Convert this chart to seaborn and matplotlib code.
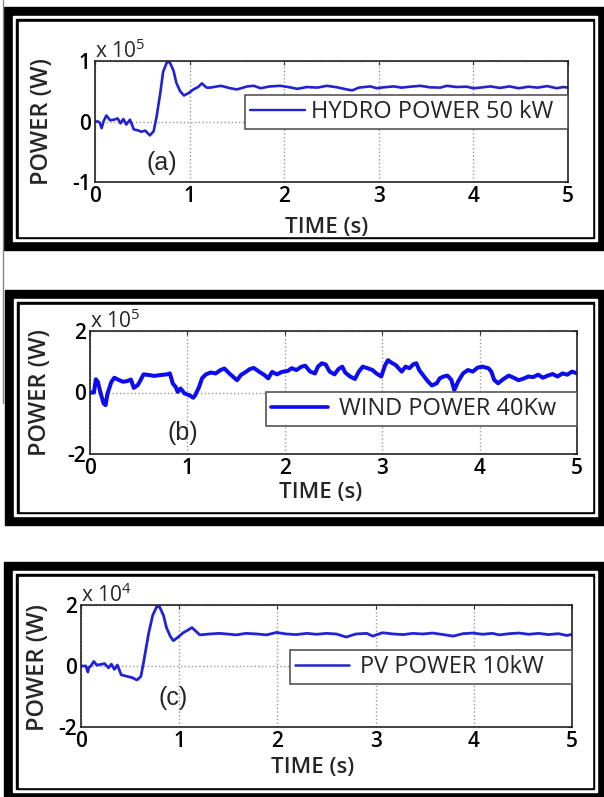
import matplotlib
matplotlib.use('Agg')
import matplotlib.pyplot as plt
from matplotlib.patches import Rectangle
from matplotlib.lines import Line2D
import seaborn as sns

# (time s, power) pairs
hydro = [(0.00, 0.00), (0.03, 0.00), (0.05, -0.02), (0.07, -0.11), (0.09, 0.00), (0.12, 0.10),
         (0.16, 0.02), (0.20, 0.03), (0.24, 0.05), (0.27, -0.03), (0.30, 0.04), (0.33, -0.05),
         (0.37, 0.03), (0.41, -0.13), (0.46, -0.15), (0.49, -0.17), (0.53, -0.15), (0.58, -0.23),
         (0.62, -0.16), (0.65, 0.07), (0.69, 0.47), (0.72, 0.82), (0.76, 0.98), (0.79, 0.98),
         (0.83, 0.84), (0.86, 0.64), (0.90, 0.50), (0.94, 0.43), (0.99, 0.47), (1.04, 0.53),
         (1.09, 0.57), (1.13, 0.63), (1.18, 0.56), (1.22, 0.56), (1.33, 0.59), (1.43, 0.55),
         (1.50, 0.53), (1.61, 0.58), (1.68, 0.59), (1.75, 0.55), (1.85, 0.58), (1.96, 0.59),
         (2.06, 0.565), (2.14, 0.54), (2.24, 0.57), (2.35, 0.56), (2.45, 0.59), (2.56, 0.565),
         (2.66, 0.53), (2.72, 0.515), (2.79, 0.56), (2.91, 0.58), (2.98, 0.55), (3.05, 0.565),
         (3.16, 0.58), (3.24, 0.56), (3.33, 0.575), (3.44, 0.59), (3.54, 0.565), (3.65, 0.56),
         (3.72, 0.59), (3.82, 0.57), (3.93, 0.575), (4.00, 0.55), (4.07, 0.56), (4.18, 0.58),
         (4.28, 0.555), (4.38, 0.58), (4.48, 0.55), (4.58, 0.575), (4.68, 0.56), (4.78, 0.585),
         (4.88, 0.55), (4.95, 0.57), (5.00, 0.56)]

wind = [(0.00, 0.00), (0.04, 0.00), (0.06, 0.43), (0.08, 0.35), (0.11, -0.03), (0.14, -0.36),
        (0.16, -0.41), (0.18, -0.03), (0.22, 0.35), (0.25, 0.48), (0.30, 0.40), (0.34, 0.35),
        (0.38, 0.37), (0.42, 0.42), (0.45, 0.15), (0.49, 0.24), (0.51, 0.35), (0.55, 0.59),
        (0.60, 0.57), (0.66, 0.54), (0.73, 0.57), (0.79, 0.59), (0.82, 0.62), (0.85, 0.29),
        (0.88, 0.18), (0.90, 0.02), (0.93, 0.13), (0.97, -0.03), (1.02, -0.09), (1.06, -0.17),
        (1.08, -0.09), (1.12, 0.18), (1.15, 0.46), (1.19, 0.59), (1.24, 0.65), (1.29, 0.62),
        (1.34, 0.73), (1.38, 0.78), (1.43, 0.62), (1.47, 0.51), (1.51, 0.40), (1.55, 0.57),
        (1.60, 0.67), (1.64, 0.76), (1.68, 0.80), (1.74, 0.67), (1.79, 0.57), (1.83, 0.46),
        (1.87, 0.67), (1.92, 0.59), (1.97, 0.67), (2.03, 0.70), (2.07, 0.79), (2.12, 0.73),
        (2.17, 0.84), (2.21, 0.87), (2.26, 0.68), (2.31, 0.62), (2.34, 0.84), (2.38, 0.95),
        (2.42, 0.91), (2.46, 0.68), (2.51, 0.59), (2.55, 0.76), (2.59, 0.84), (2.62, 0.65),
        (2.67, 0.52), (2.72, 0.44), (2.76, 0.68), (2.80, 0.84), (2.85, 0.79), (2.90, 0.73),
        (2.94, 0.62), (2.99, 0.52), (3.03, 0.89), (3.06, 1.05), (3.09, 0.98), (3.14, 0.89),
        (3.20, 0.68), (3.24, 0.84), (3.28, 0.79), (3.32, 0.92), (3.35, 0.95), (3.38, 0.73),
        (3.43, 0.52), (3.47, 0.36), (3.51, 0.23), (3.56, 0.30), (3.59, 0.46), (3.63, 0.52),
        (3.67, 0.55), (3.71, 0.41), (3.74, 0.08), (3.78, 0.36), (3.83, 0.62), (3.88, 0.73),
        (3.93, 0.68), (3.98, 0.81), (4.03, 0.84), (4.09, 0.79), (4.12, 0.68), (4.15, 0.41),
        (4.19, 0.30), (4.25, 0.45), (4.30, 0.55), (4.35, 0.48), (4.40, 0.40), (4.45, 0.45),
        (4.50, 0.52), (4.55, 0.50), (4.60, 0.58), (4.65, 0.48), (4.70, 0.55), (4.75, 0.60),
        (4.80, 0.52), (4.85, 0.62), (4.90, 0.58), (4.95, 0.68), (5.00, 0.62)]

pv = [(0.00, 0.00), (0.05, 0.00), (0.07, -0.20), (0.08, -0.05), (0.10, 0.00), (0.13, 0.15),
      (0.16, 0.03), (0.20, 0.05), (0.24, 0.08), (0.28, -0.06), (0.31, 0.06), (0.34, -0.11),
      (0.37, 0.03), (0.41, -0.29), (0.47, -0.34), (0.52, -0.38), (0.57, -0.46), (0.61, -0.34),
      (0.64, 0.17), (0.69, 1.09), (0.73, 1.66), (0.77, 1.94), (0.80, 1.94), (0.84, 1.66),
      (0.87, 1.26), (0.91, 0.97), (0.94, 0.83), (0.99, 0.95), (1.04, 1.09), (1.09, 1.18),
      (1.13, 1.26), (1.18, 1.11), (1.21, 1.02), (1.31, 1.05), (1.41, 1.07), (1.52, 1.04),
      (1.58, 1.02), (1.68, 1.07), (1.79, 1.05), (1.89, 1.02), (1.99, 1.10), (2.09, 1.05),
      (2.19, 1.03), (2.30, 1.07), (2.40, 1.04), (2.50, 1.07), (2.60, 1.05), (2.70, 0.95),
      (2.80, 1.05), (2.91, 1.07), (2.97, 0.98), (3.07, 1.09), (3.18, 1.05), (3.28, 1.03),
      (3.38, 1.07), (3.48, 1.05), (3.58, 1.08), (3.69, 1.03), (3.79, 0.98), (3.89, 1.06),
      (3.99, 1.08), (4.09, 1.04), (4.19, 1.07), (4.26, 1.02), (4.36, 1.06), (4.46, 1.08),
      (4.56, 1.04), (4.66, 1.07), (4.76, 1.03), (4.86, 1.06), (4.95, 1.00), (5.00, 1.04)]

x_ticks = [0, 1, 2, 3, 4, 5]
legend_labels = ['HYDRO POWER 50 kW', 'WIND POWER 40Kw', 'PV POWER 10kW']
exponents = ['5', '5', '4']
y_limits = [1, 2, 2]
tags = ['(a)', '(b)', '(c)']
tag_pos = [(0.71, -0.69), (0.955, -1.32), (0.94, -1.05)]

sns.set_style('white')
plt.rcParams['font.family'] = ['Open Sans', 'DejaVu Sans']
plt.rcParams['mathtext.fontset'] = 'custom'
plt.rcParams['mathtext.rm'] = 'Open Sans'

W, H = 604, 797
fig = plt.figure(figsize=(W / 100, H / 100), dpi=100)


def frame(x0, y0, x1, y1):
    # double black border around a panel (pixel coords, y down)
    for inset, col in [(0, 'black'), (9, 'white'), (12, 'black'), (14.5, 'white')]:
        fig.patches.append(Rectangle(((x0 + inset) / W, 1 - (y1 - inset) / H),
                                     (x1 - x0 - 2 * inset) / W, (y1 - y0 - 2 * inset) / H,
                                     transform=fig.transFigure, color=col, zorder=-10))


frame(4, 7, 606, 250)
frame(5, 290, 606, 525)
frame(4, 562, 606, 801)
fig.lines.append(Line2D([3 / W, 3 / W], [1, 1 - 403 / H], transform=fig.transFigure,
                        color='#888888', lw=1))

# axes boxes in pixels: left, top, right, bottom
boxes = [(95, 61, 568, 182), (90, 331, 577, 454), (81, 605, 572, 727)]
legend_boxes = [(0.317, 0.455, 0.683, 0.247), (0.361, 0.236, 0.639, 0.26), (0.426, 0.36, 0.574, 0.263)]
handle_len = [2.35, 2.45, 2.3]
text_pad = [0.25, 0.45, 0.45]
ylab_pos = [(-0.112, 0.5), (-0.103, 0.504), (-0.088, 0.49)]
xlab_pos = [(0.49, -0.372), (0.474, -0.309), (0.472, -0.336)]
line_w = [1.9, 2.9, 2.0]
colors = ['#2222d0', '#0c0cee', '#2222d8']

for i, series in enumerate([hydro, wind, pv]):
    l, t, r, b = boxes[i]
    ax = fig.add_axes([l / W, 1 - b / H, (r - l) / W, (b - t) / H])
    tt, pp = zip(*series)
    sns.lineplot(x=list(tt), y=list(pp), ax=ax, color=colors[i], lw=line_w[i],
                 estimator=None, sort=False, label=legend_labels[i])
    lim = y_limits[i]
    ax.set_xlim(0, 5)
    ax.set_ylim(-lim, lim)
    ax.set_xticks(x_ticks)
    ax.set_xticklabels([str(v) for v in x_ticks])
    ax.set_yticks([-lim, 0, lim])
    ax.set_yticklabels(['-%d' % lim, '0', '%d' % lim])
    ax.tick_params(direction='in', length=3, width=0.8, labelsize=15, pad=3,
                   top=True, right=True, colors='#333333', labelcolor='black')
    for lab in ax.get_xticklabels() + ax.get_yticklabels():
        lab.set_fontweight('semibold')
    ax.grid(True, ls=':', color='#999999', lw=1)
    for s in ax.spines.values():
        s.set_color('#222222')
        s.set_linewidth(1.2)

    ax.set_xlabel('TIME (s)', fontsize=16, fontweight='semibold')
    ax.set_ylabel('POWER (W)', fontsize=17, fontweight='semibold')
    ax.xaxis.label.set_va('center')
    ax.yaxis.label.set_va('center')
    ax.xaxis.set_label_coords(*xlab_pos[i])
    ax.yaxis.set_label_coords(*ylab_pos[i])

    ax.text(0.0, 1.08, r'x 10$^{\mathregular{%s}}$' % exponents[i], transform=ax.transAxes,
            fontsize=15, va='center', ha='left')
    ax.text(tag_pos[i][0], tag_pos[i][1], tags[i], fontsize=18, ha='center', va='center',
            family=['Liberation Sans', 'DejaVu Sans'])

    leg = ax.legend(loc='center left', bbox_to_anchor=legend_boxes[i], mode='expand',
                    borderaxespad=0, fancybox=False, framealpha=1, edgecolor='#555555',
                    fontsize=17, handlelength=handle_len[i], handletextpad=text_pad[i],
                    borderpad=0.2)
    leg.get_frame().set_linewidth(1.2)
    leg.get_lines()[0].set_linewidth(line_w[i] * 0.9)

fig.savefig('out.png', dpi=100, facecolor='white')
